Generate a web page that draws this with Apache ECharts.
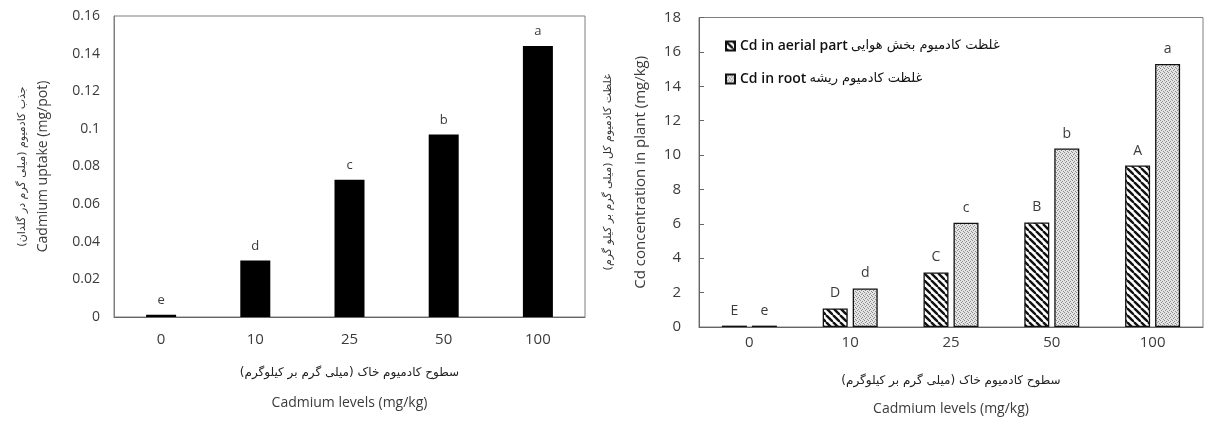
<!DOCTYPE html>
<html>
<head>
<meta charset="utf-8">
<script src="https://cdn.jsdelivr.net/npm/echarts@6/dist/echarts.min.js"></script>
<style>
  html, body { margin: 0; padding: 0; background: #fff; }
  #container { width: 1206px; height: 421px; }
</style>
</head>
<body>
<div id="container"></div>
<script>
// data
const levels = ['0', '10', '25', '50', '100']
const uptake = [0.0012, 0.030, 0.073, 0.097, 0.144]
const uptakeLetters = ['e', 'd', 'c', 'b', 'a']
const aerial = [0.08, 1.08, 3.17, 6.08, 9.39]
const aerialLetters = ['E', 'D', 'C', 'B', 'A']
const root = [0.08, 2.24, 6.07, 10.38, 15.30]
const rootLetters = ['e', 'd', 'c', 'b', 'a']

const FONT = "'Open Sans', 'DejaVu Sans', sans-serif"
const FA = "'DejaVu Sans', sans-serif"
const txt = '#3b3b3b'
const frame = '#7f7f7f'

// hatch "\\\" for aerial part
function stripes() {
    let c = document.createElement('canvas')
    c.width = 7; c.height = 7
    let ctx = c.getContext('2d')
    ctx.fillStyle = '#fff'
    ctx.fillRect(0, 0, 7, 7)
    ctx.strokeStyle = '#111'
    ctx.lineWidth = 2.4
    for (let x0 of [-7, 0, 7]) {
        ctx.beginPath()
        ctx.moveTo(x0, 0)
        ctx.lineTo(x0 + 7, 7)
        ctx.stroke()
    }
    return c
}

// fine stipple for root
function stipple() {
    let c = document.createElement('canvas')
    c.width = 4; c.height = 4
    let ctx = c.getContext('2d')
    ctx.fillStyle = '#e4e4e4'
    ctx.fillRect(0, 0, 4, 4)
    ctx.fillStyle = '#8c8c8c'
    ;[[0, 0], [2, 1], [1, 2], [3, 3]].forEach(p => ctx.fillRect(p[0], p[1], 1, 1))
    return c
}

let chart = echarts.init(document.getElementById('container'))

let options = {
    animation: false,
    textStyle: { fontFamily: FONT },
    legend: {
        orient: 'vertical',
        left: 720,
        top: 34,
        itemGap: 19,
        itemWidth: 9,
        itemHeight: 9,
        icon: 'rect',
        selectedMode: false,
        data: ['Cd in aerial part', 'Cd in root'],
        formatter: name => name === 'Cd in aerial part'
            ? '{en|Cd in aerial part} {fa|غلظت کادمیوم بخش هوایی}'
            : '{en|Cd in root} {fa|غلظت کادمیوم ریشه}',
        textStyle: {
            rich: {
                en: { fontFamily: FONT, fontSize: 14, fontWeight: 600, color: '#111' },
                fa: { fontFamily: FA, fontSize: 13, color: '#111' }
            }
        }
    },
    grid: [
        { left: 114, top: 16, width: 471, height: 301, show: true, borderColor: frame, borderWidth: 1 },
        { left: 699, top: 17.5, width: 504, height: 310.5, show: true, borderColor: frame, borderWidth: 1 }
    ],
    xAxis: [
        {
            type: 'category', gridIndex: 0, data: levels,
            axisLine: { lineStyle: { color: '#666' } },
            axisTick: { show: false },
            axisLabel: { margin: 15, fontSize: 15, color: txt },
            name: '{fa|سطوح کادمیوم خاک (میلی گرم بر کیلوگرم)}\n{en|Cadmium levels (mg/kg)}',
            nameLocation: 'middle',
            nameGap: 36,
            nameTextStyle: {
                rich: {
                    fa: { fontFamily: FA, fontSize: 12, color: '#222', lineHeight: 40 },
                    en: { fontFamily: FONT, fontSize: 14, color: txt, lineHeight: 20 }
                }
            }
        },
        {
            type: 'category', gridIndex: 1, data: levels,
            axisLine: { lineStyle: { color: '#666' } },
            axisTick: { show: false },
            axisLabel: { margin: 8, fontSize: 15, color: txt },
            name: '{fa|سطوح کادمیوم خاک (میلی گرم بر کیلوگرم)}\n{en|Cadmium levels (mg/kg)}',
            nameLocation: 'middle',
            nameGap: 36,
            nameTextStyle: {
                rich: {
                    fa: { fontFamily: FA, fontSize: 12, color: '#222', lineHeight: 36 },
                    en: { fontFamily: FONT, fontSize: 14, color: txt, lineHeight: 20 }
                }
            }
        }
    ],
    yAxis: [
        {
            type: 'value', gridIndex: 0, min: 0, max: 0.16, interval: 0.02,
            splitLine: { show: false },
            axisLine: { show: true, lineStyle: { color: frame } },
            axisTick: { show: false },
            axisLabel: { margin: 14, fontSize: 14, color: txt },
            name: '{fa|جذب کادمیوم (میلی گرم در گلدان)}\n{en|Cadmium uptake (mg/pot)}',
            nameLocation: 'middle',
            nameGap: 61,
            nameTextStyle: {
                rich: {
                    fa: { fontFamily: FA, fontSize: 11, color: '#333', lineHeight: 22 },
                    en: { fontFamily: FONT, fontSize: 14, color: txt, lineHeight: 20 }
                }
            }
        },
        {
            type: 'value', gridIndex: 1, min: 0, max: 18, interval: 2,
            splitLine: { show: false },
            axisLine: { show: true, lineStyle: { color: '#666' } },
            axisTick: { show: true, inside: true, length: 5, lineStyle: { color: '#666' } },
            axisLabel: { margin: 18, fontSize: 15, color: txt },
            name: '{fa|غلظت کادمیوم کل (میلی گرم بر کیلو گرم)}\n{en|Cd concentration in plant (mg/kg)}',
            nameLocation: 'middle',
            nameGap: 48,
            nameTextStyle: {
                rich: {
                    fa: { fontFamily: FA, fontSize: 11, color: '#333', lineHeight: 46 },
                    en: { fontFamily: FONT, fontSize: 15, color: txt, lineHeight: 20 }
                }
            }
        }
    ],
    series: [
        {
            name: 'Cadmium uptake',
            type: 'bar',
            xAxisIndex: 0, yAxisIndex: 0,
            data: uptake,
            barWidth: 30,
            itemStyle: { color: '#000' },
            label: {
                show: true, position: 'top', distance: 8,
                fontSize: 13, color: txt,
                formatter: p => uptakeLetters[p.dataIndex]
            }
        },
        {
            name: 'Cd in aerial part',
            type: 'bar',
            xAxisIndex: 1, yAxisIndex: 1,
            data: aerial,
            barWidth: 25,
            barGap: '20%',
            itemStyle: { color: { image: stripes(), repeat: 'repeat' }, borderColor: '#111', borderWidth: 1.3 },
            label: {
                show: true, position: 'top', distance: 8,
                fontSize: 14, color: txt,
                formatter: p => aerialLetters[p.dataIndex]
            }
        },
        {
            name: 'Cd in root',
            type: 'bar',
            xAxisIndex: 1, yAxisIndex: 1,
            data: root,
            barWidth: 25,
            barGap: '20%',
            itemStyle: { color: { image: stipple(), repeat: 'repeat' }, borderColor: '#111', borderWidth: 1.3 },
            label: {
                show: true, position: 'top', distance: 8,
                fontSize: 14, color: txt,
                formatter: p => rootLetters[p.dataIndex]
            }
        }
    ]
}

chart.setOption(options)
window.addEventListener('resize', () => { chart.resize() })
</script>
</body>
</html>
